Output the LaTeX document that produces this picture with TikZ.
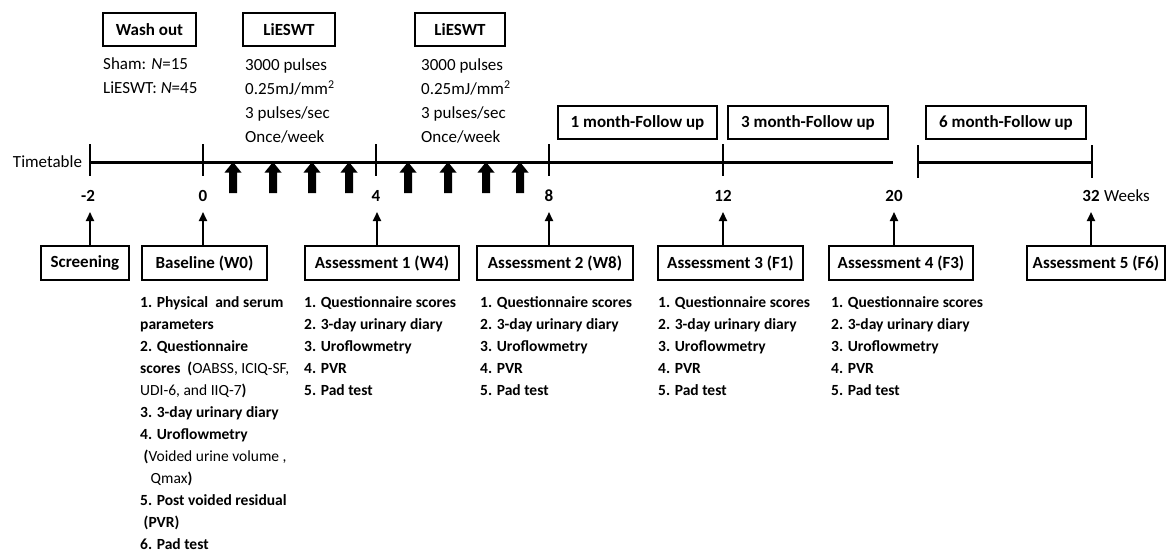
\documentclass[tikz,border=0pt]{standalone}
\usepackage{fontspec}
\setmainfont{Carlito}
\usetikzlibrary{arrows.meta}
\begin{document}
\begin{tikzpicture}[x=1pt,y=-1pt,
  boxlbl/.style={draw,line width=1.4pt,inner sep=0pt,minimum height=33pt,font=\fontsize{17}{20}\selectfont\bfseries},
  toptext/.style={anchor=north west,inner sep=0pt,align=left,font=\fontsize{17}{24}\selectfont},
  listtext/.style={anchor=north west,inner sep=0pt,align=left,font=\fontsize{15.5}{22}\selectfont\bfseries},
  ticklbl/.style={inner sep=0pt,font=\fontsize{17}{20}\selectfont\bfseries},
  tline/.style={line width=3pt},
  tick/.style={line width=2pt},
  uparrow/.style={line width=2pt,-{Triangle[width=8pt,length=9pt]}}
]
\useasboundingbox (0,0) rectangle (1167,552);

% top boxes
\node[boxlbl,minimum width=93pt] (wash) at (149.5,29.5) {Wash out};
\node[boxlbl,minimum width=92pt] (lie1) at (289,29.5) {LiESWT};
\node[boxlbl,minimum width=90pt] (lie2) at (460,29.5) {LiESWT};
\node[toptext] (washtxt) at (103,52) {\strut Sham: \textit{N}=15\\LiESWT: \textit{N}=45};
\node[toptext] (lie1txt) at (245,53.5) {\strut 3000 pulses\\0.25mJ/mm\textsuperscript{2}\\3 pulses/sec\\Once/week};
\node[toptext] (lie2txt) at (421,53.5) {\strut 3000 pulses\\0.25mJ/mm\textsuperscript{2}\\3 pulses/sec\\Once/week};

\node[boxlbl,minimum width=159pt] (fu1) at (637.5,122.5) {1 month-Follow up};
\node[boxlbl,minimum width=160pt] (fu3) at (808,122.5) {3 month-Follow up};
\node[boxlbl,minimum width=160pt] (fu6) at (1006,122.5) {6 month-Follow up};

% timeline
\node[inner sep=0pt,font=\fontsize{17}{20}\selectfont] (tt) at (47.5,162) {Timetable};
\draw[tline] (90,162) -- (893,162);
\draw[tline] (918,162) -- (1092,162);
\foreach \x in {90,203,376,549,723} \draw[tick] (\x,144) -- (\x,176);
\foreach \x in {918,1092} \draw[tick] (\x,145) -- (\x,178);

% block arrows
\foreach \x in {233,273,312,349,408,448,486,520}
  \fill (\x,162) -- (\x+8.5,172.5) -- (\x+4,172.5) -- (\x+4,193) -- (\x-4,193) -- (\x-4,172.5) -- (\x-8.5,172.5) -- cycle;

% tick labels
\node[ticklbl] (lm2) at (88,196) {-2};
\node[ticklbl] (l0) at (203,196) {0};
\node[ticklbl] (l4) at (376,196) {4};
\node[ticklbl] (l8) at (549,196) {8};
\node[ticklbl] (l12) at (723,196) {12};
\node[ticklbl] (l20) at (894,196) {20};
\node[ticklbl] (l32) at (1091,196) {32};
\node[inner sep=0pt,font=\fontsize{17}{20}\selectfont,anchor=west] (weeks) at (1104,196) {Weeks};

% bottom boxes
\node[boxlbl,minimum height=34pt,minimum width=88pt] (scr) at (85,263) {Screening};
\node[boxlbl,minimum height=34pt,minimum width=125pt] (base) at (204.5,263) {Baseline (W0)};
\node[boxlbl,minimum height=34pt,minimum width=154pt] (a1) at (382,263) {Assessment 1 (W4)};
\node[boxlbl,minimum height=34pt,minimum width=156pt] (a2) at (555,263) {Assessment 2 (W8)};
\node[boxlbl,minimum height=34pt,minimum width=145pt] (a3) at (730.5,263) {Assessment 3 (F1)};
\node[boxlbl,minimum height=34pt,minimum width=144pt] (a4) at (901,263) {Assessment 4 (F3)};
\node[boxlbl,minimum height=34pt,minimum width=138pt] (a5) at (1096,263) {Assessment 5 (F6)};

% thin arrows
\coordinate (t1) at (90,212);
\coordinate (t2) at (203,212);
\coordinate (t3) at (377,212);
\coordinate (t4) at (549,212);
\coordinate (t5) at (723,212);
\coordinate (t6) at (894,212);
\coordinate (t7) at (1091,212);
\draw[uparrow] (t1 |- scr.north) -- (t1);
\draw[uparrow] (t2 |- base.north) -- (t2);
\draw[uparrow] (t3 |- a1.north) -- (t3);
\draw[uparrow] (t4 |- a2.north) -- (t4);
\draw[uparrow] (t5 |- a3.north) -- (t5);
\draw[uparrow] (t6 |- a4.north) -- (t6);
\draw[uparrow] (t7 |- a5.north) -- (t7);

% lists
\node[listtext] (baselist) at (140,292) {\strut 1. Physical\ \ and serum\\parameters\\2. Questionnaire\\scores\ \ (\mdseries OABSS, ICIQ-SF,\\\mdseries UDI-6, and IIQ-7\bfseries)\\3. 3-day urinary diary\\4. Uroflowmetry\\\ (\mdseries Voided urine volume ,\\\mdseries\ \ \ Qmax\bfseries)\\5. Post voided residual\\\ (PVR)\\6. Pad test};
\node[listtext] (a1list) at (304,292) {\strut 1. Questionnaire scores\\2. 3-day urinary diary\\3. Uroflowmetry\\4. PVR\\5. Pad test};
\node[listtext] (a2list) at (480,292) {\strut 1. Questionnaire scores\\2. 3-day urinary diary\\3. Uroflowmetry\\4. PVR\\5. Pad test};
\node[listtext] (a3list) at (658,292) {\strut 1. Questionnaire scores\\2. 3-day urinary diary\\3. Uroflowmetry\\4. PVR\\5. Pad test};
\node[listtext] (a4list) at (831,292) {\strut 1. Questionnaire scores\\2. 3-day urinary diary\\3. Uroflowmetry\\4. PVR\\5. Pad test};
\end{tikzpicture}
\end{document}
